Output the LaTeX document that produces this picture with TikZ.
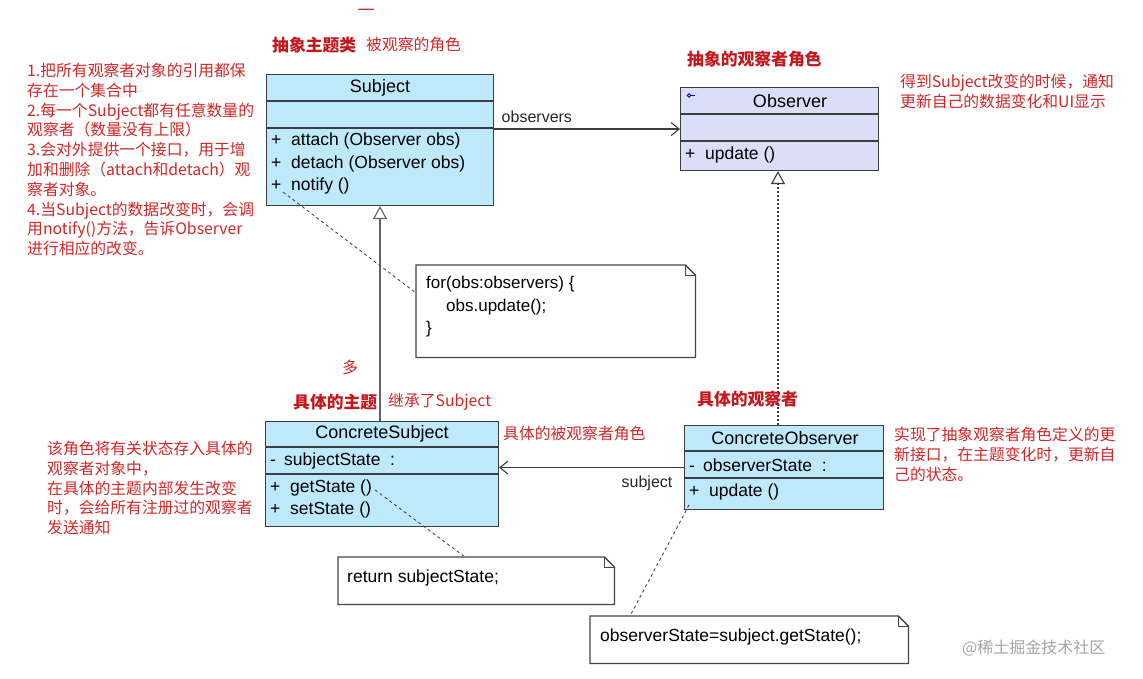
\documentclass[tikz,border=0pt]{standalone}
\usepackage{fontspec}
\setmainfont{Liberation Sans}
\newfontfamily\cjk{Noto Sans CJK SC}
\usetikzlibrary{arrows.meta,calc}
\definecolor{redt}{RGB}{208,40,40}
\definecolor{redb}{RGB}{195,25,30}
\definecolor{subjfill}{RGB}{190,233,250}
\definecolor{obsfill}{RGB}{218,222,246}
\definecolor{linec}{RGB}{60,60,65}
\definecolor{notec}{RGB}{70,70,70}
\definecolor{wmark}{RGB}{165,165,165}
\begin{document}
\begin{tikzpicture}[x=1pt,y=-1pt,
  clsbox/.style={draw=linec,line width=1.1pt,rectangle,anchor=north west,inner sep=0pt},
  divline/.style={draw=linec,line width=1.1pt},
  ctitle/.style={font=\fontsize{18}{22}\selectfont,inner sep=0pt,anchor=center},
  citem/.style={font=\fontsize{17.5}{22}\selectfont,inner sep=0pt,anchor=west},
  notebox/.style={rectangle,draw=none,anchor=north west,inner sep=0pt},
  noteline/.style={draw=notec,line width=1.3pt},
  notetxt/.style={font=\fontsize{17}{22.5}\selectfont,inner sep=0pt,anchor=north west,align=left},
  notelink/.style={draw=notec,line width=0.9pt,dash pattern=on 3pt off 3pt},
  redtitle/.style={font=\cjk\bfseries\fontsize{16.8}{20}\selectfont,text=redb,inner sep=0pt,anchor=west},
  rednote/.style={font=\cjk\fontsize{15.8}{19.8}\selectfont,text=redt,inner sep=0pt,anchor=north west,align=left},
  assoc/.style={draw=linec,line width=1.1pt,-{Straight Barb[length=8pt,width=13pt,line width=1.1pt]}},
  gener/.style={draw=linec!80,line width=1.1pt,-{Triangle[open,length=13pt,width=14pt,line width=1.1pt,fill=white]}},
  realiz/.style={draw=linec,line width=1.1pt,dash pattern=on 2pt off 2pt,-{Triangle[open,length=13pt,width=14pt,line width=1.1pt,fill=white]}},
  lbl/.style={font=\fontsize{16}{20}\selectfont,inner sep=0pt,text=black!85}
]
\useasboundingbox (0,0) rectangle (1143,679);
\fill[white] (0,0) rectangle (1143,679);

% ---------------- Subject ----------------
\node[clsbox,fill=subjfill,minimum width=227pt,minimum height=131pt] (subject) at (266,74) {};
\draw[divline] (266,101) -- (493,101);
\draw[divline] (266,128) -- (493,128);
\node[ctitle] (subjt) at (380,87.5) {Subject};
\node[citem] (attach) at (271,141) {\makebox[20pt][l]{+}attach (Observer obs)};
\node[citem] (detach) at (271,163.5) {\makebox[20pt][l]{+}detach (Observer obs)};
\node[citem] (notify) at (271,186) {\makebox[20pt][l]{+}notify ()};

% ---------------- Observer ----------------
\node[clsbox,fill=obsfill,minimum width=198pt,minimum height=83pt] (observer) at (680,87) {};
\draw[divline] (680,114) -- (878,114);
\draw[divline] (680,141) -- (878,141);
\node[ctitle] (obst) at (790,101) {Observer};
\draw[blue!70!black,line width=0.8pt] (689,95.5) circle (1.8pt);
\draw[blue!70!black,line width=0.8pt] (690.8,95.5) -- (695,95.5);
\node[citem] (oupdate) at (685,155) {\makebox[20pt][l]{+}update ()};

% ---------------- ConcreteSubject ----------------
\node[clsbox,fill=subjfill,minimum width=233pt,minimum height=105pt] (csubj) at (265,421) {};
\draw[divline] (265,447) -- (498,447);
\draw[divline] (265,474) -- (498,474);
\node[ctitle] (csubjt) at (382,434) {ConcreteSubject};
\node[citem] (sstate) at (270,461) {\makebox[14pt][l]{-}subjectState~~:};
\node[citem] (getst) at (270,488) {\makebox[20pt][l]{+}getState ()};
\node[citem] (setst) at (270,510) {\makebox[20pt][l]{+}setState ()};

% ---------------- ConcreteObserver ----------------
\node[clsbox,fill=subjfill,minimum width=199pt,minimum height=84pt] (cobs) at (684,425) {};
\draw[divline] (684,451) -- (883,451);
\draw[divline] (684,478) -- (883,478);
\node[ctitle] (cobst) at (785,438) {ConcreteObserver};
\node[citem] (ostate) at (689,465) {\makebox[14pt][l]{-}observerState~~:};
\node[citem] (cupdate) at (689,492) {\makebox[20pt][l]{+}update ()};

% ---------------- Notes ----------------
\node[notebox,minimum width=279pt,minimum height=92pt] (note1) at (416,265) {};
\draw[noteline] (note1.north west) -- ([xshift=-10pt]note1.north east) -- ([yshift=-10pt]note1.north east) -- (note1.south east) -- (note1.south west) -- cycle;
\draw[noteline,line width=0.8pt] ([xshift=-10pt]note1.north east) -- ([xshift=-10pt,yshift=-10pt]note1.north east) -- ([yshift=-10pt]note1.north east);
\node[notetxt] (note1t) at (426,276) {for(obs:observers) \{\\\hspace{20pt}obs.update();\\\}};

\node[notebox,minimum width=276pt,minimum height=47pt] (note2) at (338,557) {};
\draw[noteline] (note2.north west) -- ([xshift=-10pt]note2.north east) -- ([yshift=-10pt]note2.north east) -- (note2.south east) -- (note2.south west) -- cycle;
\draw[noteline,line width=0.8pt] ([xshift=-10pt]note2.north east) -- ([xshift=-10pt,yshift=-10pt]note2.north east) -- ([yshift=-10pt]note2.north east);
\node[citem] (note2t) at (347,578) {return subjectState;};

\node[notebox,minimum width=318pt,minimum height=47pt] (note3) at (590,616) {};
\draw[noteline] (note3.north west) -- ([xshift=-10pt]note3.north east) -- ([yshift=-10pt]note3.north east) -- (note3.south east) -- (note3.south west) -- cycle;
\draw[noteline,line width=0.8pt] ([xshift=-10pt]note3.north east) -- ([xshift=-10pt,yshift=-10pt]note3.north east) -- ([yshift=-10pt]note3.north east);
\node[citem] (note3t) at (600,637) {observerState=subject.getState();};

% ---------------- Connectors ----------------
\draw[assoc] (subject.east |- observer.west) -- node[lbl,above=6pt,pos=0.23] {observers} (observer.west);
\draw[gener] (csubj.north -| subjt) -- (subject.south -| subjt);
\draw[realiz] (cobs.north -| 778,0) -- (observer.south -| 778,0);
\draw[assoc] (cobs.west) -- node[lbl,below=8pt,pos=0.2] {subject} (cobs.west -| csubj.east);

\coordinate (n1a) at (283,192);
\coordinate (n1b) at (416,293);
\draw[notelink] (n1a) -- (n1b);
\coordinate (n2a) at (375,490);
\coordinate (n2b) at (465,557);
\draw[notelink] (n2a) -- (n2b);
\coordinate (n3a) at (689,505);
\coordinate (n3b) at (630,616);
\draw[notelink] (n3a) -- (n3b);

% ---------------- Red annotations ----------------
\node[font=\cjk\fontsize{17}{20}\selectfont,text=redt,inner sep=0pt] (dash) at (366,13) {一};
\node[redtitle] (t1) at (272,45) {抽象主题类};
\node[rednote,anchor=west] (t1b) at (366,45) {被观察的角色};
\node[rednote] (leftnote) at (27,63) {1.把所有观察者对象的引用都保\\存在一个集合中\\2.每一个Subject都有任意数量的\\观察者（数量没有上限）\\3.会对外提供一个接口，用于增\\加和删除（attach和detach）观\\察者对象。\\4.当Subject的数据改变时，会调\\用notify()方法，告诉Observer\\进行相应的改变。};
\node[redtitle] (t2) at (687,59) {抽象的观察者角色};
\node[rednote] (rnote1) at (900,74) {得到Subject改变的时候，通知\\更新自己的数据变化和UI显示};
\node[font=\cjk\fontsize{16}{20}\selectfont,text=redt,inner sep=0pt] (duo) at (350,367) {多};
\node[redtitle] (t3) at (293,402) {具体的主题};
\node[rednote,anchor=west] (t3b) at (388,402) {继承了Subject};
\node[rednote,anchor=west] (t4) at (503,434) {具体的被观察者角色};
\node[redtitle] (t5) at (697,399) {具体的观察者};
\node[rednote] (rnote2) at (894,427) {实现了抽象观察者角色定义的更\\新接口，在主题变化时，更新自\\己的状态。};
\node[rednote] (lnote2) at (47,441) {该角色将有关状态存入具体的\\观察者对象中，\\在具体的主题内部发生改变\\时，会给所有注册过的观察者\\发送通知};
\node[font=\cjk\fontsize{16}{20}\selectfont,text=wmark,inner sep=0pt,anchor=west] (wm) at (962,648) {@稀土掘金技术社区};
\end{tikzpicture}
\end{document}
